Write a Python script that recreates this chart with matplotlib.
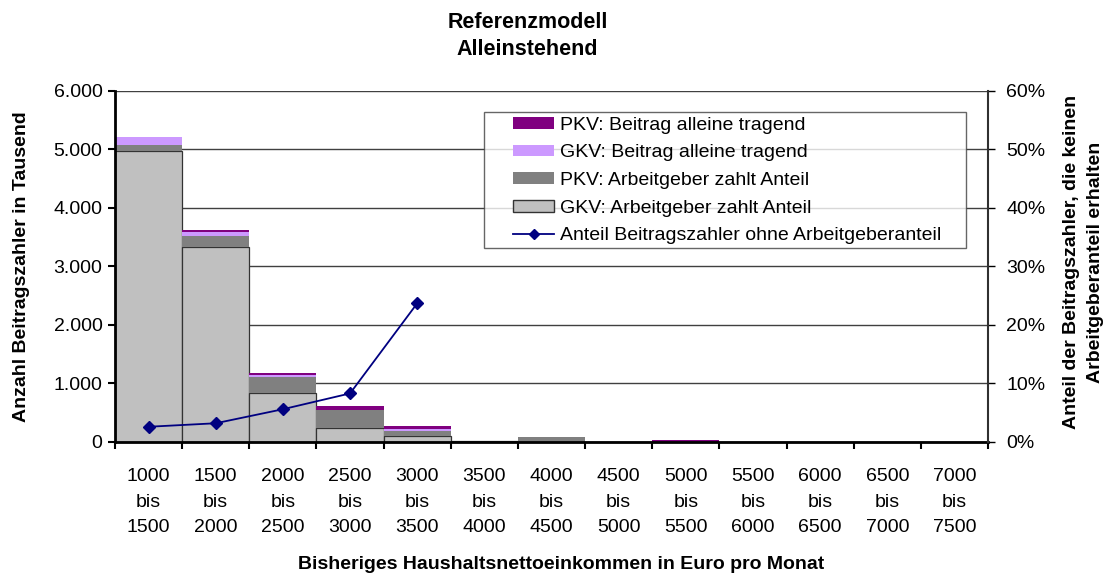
import matplotlib
matplotlib.use("Agg")
import matplotlib.pyplot as plt
import numpy as np
from matplotlib.ticker import FuncFormatter, FixedLocator
from matplotlib.patches import Patch, Rectangle
from matplotlib.lines import Line2D
from matplotlib.legend_handler import HandlerPatch, HandlerLine2D

plt.rcParams['font.family'] = ['Liberation Sans', 'DejaVu Sans']

categories = ["1000\nbis\n1500", "1500\nbis\n2000", "2000\nbis\n2500", "2500\nbis\n3000",
              "3000\nbis\n3500", "3500\nbis\n4000", "4000\nbis\n4500", "4500\nbis\n5000",
              "5000\nbis\n5500", "5500\nbis\n6000", "6000\nbis\n6500", "6500\nbis\n7000",
              "7000\nbis\n7500"]
gkv_ag = [4980, 3340, 832, 234, 108, 25, 0, 0, 0, 0, 0, 0, 0]
pkv_ag = [97, 180, 284, 313, 85, 0, 85, 0, 0, 0, 0, 0, 0]
gkv_alone = [137, 70, 28, 0, 29, 0, 0, 0, 0, 0, 0, 0, 0]
pkv_alone = [0, 35, 40, 68, 51, 0, 0, 0, 30, 0, 0, 0, 0]
anteil = [2.6, 3.2, 5.6, 8.3, 23.7, np.nan, np.nan, np.nan, np.nan, np.nan, np.nan, np.nan, np.nan]

fig = plt.figure(figsize=(11.08, 5.74), dpi=100)
ax = fig.add_axes([0.1038, 0.23, 0.7879, 0.6115])
x = np.arange(len(categories))

ax.set_axisbelow(True)
ax.yaxis.grid(True, color='#404040', linewidth=1.0)
b1 = np.array(gkv_ag)
b2 = b1 + np.array(pkv_ag)
b3 = b2 + np.array(gkv_alone)
ax.bar(x, gkv_ag, width=1.0, color='#C0C0C0', edgecolor='#333333', linewidth=0.9, zorder=2)
ax.bar(x, pkv_ag, width=1.0, bottom=b1, color='#808080', linewidth=0, zorder=2)
ax.bar(x, gkv_alone, width=1.0, bottom=b2, color='#CC99FF', linewidth=0, zorder=2)
ax.bar(x, pkv_alone, width=1.0, bottom=b3, color='#800080', linewidth=0, zorder=2)

ax.set_xlim(-0.5, len(categories) - 0.5)
ax.set_ylim(0, 6000)
ax.set_yticks(np.arange(0, 6001, 1000))
ax.yaxis.set_major_formatter(FuncFormatter(lambda v, p: f"{int(v):,}".replace(",", ".")))
ax.set_xticks(x)
ax.set_xticklabels(categories, fontsize=14, linespacing=1.63)
ax.xaxis.set_minor_locator(FixedLocator(np.arange(-0.5, len(categories), 1.0)))
ax.tick_params(axis='x', which='major', length=0, pad=19)
ax.tick_params(axis='x', which='minor', length=5, width=1.5, direction='out')
ax.tick_params(axis='y', labelsize=14, length=5, width=1.5, direction='out', pad=4)
ax.spines['top'].set_visible(False)
ax.spines['right'].set_visible(False)
ax.spines['left'].set_linewidth(2)
ax.spines['bottom'].set_linewidth(2)
ax.set_ylabel("Anzahl Beitragszahler in Tausend", fontsize=14, fontweight='bold')
ax.yaxis.set_label_coords(-0.097, 0.5)
ax.set_xlabel("Bisheriges Haushaltsnettoeinkommen in Euro pro Monat", fontsize=14,
              fontweight='bold')
ax.xaxis.set_label_coords(0.511, -0.324)

ax2 = ax.twinx()
ax2.set_ylim(0, 60)
ax2.set_yticks(np.arange(0, 61, 10))
ax2.yaxis.set_major_formatter(FuncFormatter(lambda v, p: f"{int(v)}%"))
ax2.tick_params(axis='y', labelsize=14, length=5, width=1.0, direction='out', pad=8)
ax2.plot(x, anteil, color='#000080', linewidth=1.3, marker='D', markersize=6, zorder=5)
for s in ['top', 'left', 'bottom']:
    ax2.spines[s].set_visible(False)
ax2.spines['right'].set_linewidth(1.5)
ax2.spines['right'].set_color('#303030')
ax2.set_ylabel("Anteil der Beitragszahler, die keinen\nArbeitgeberanteil erhalten", fontsize=14,
               fontweight='bold', linespacing=1.55)
ax2.yaxis.set_label_coords(1.086, 0.513)

HW = 29.5  # legend key width in points
HH = 8.4   # legend key height in points


def right_rect(legend, orig_handle, xdescent, ydescent, width, height, fontsize):
    return Rectangle((-xdescent + width - HW, -ydescent + (height - HH) / 2), HW, HH)


class RightLine(HandlerLine2D):
    def get_xdata(self, legend, xdescent, ydescent, width, height, fontsize):
        x0 = -xdescent + width - HW
        return np.array([x0, x0 + HW]), np.array([x0 + HW / 2])


handles = [
    Patch(facecolor='#800080', edgecolor='none', label='PKV: Beitrag alleine tragend'),
    Patch(facecolor='#CC99FF', edgecolor='none', label='GKV: Beitrag alleine tragend'),
    Patch(facecolor='#808080', edgecolor='none', label='PKV: Arbeitgeber zahlt Anteil'),
    Patch(facecolor='#C0C0C0', edgecolor='#333333', label='GKV: Arbeitgeber zahlt Anteil'),
    Line2D([0], [0], color='#000080', linewidth=1.3, marker='D', markersize=5,
           label='Anteil Beitragszahler ohne Arbeitgeberanteil'),
]
hmap = {h: HandlerPatch(patch_func=right_rect) for h in handles[:4]}
hmap[handles[4]] = RightLine()
leg = ax2.legend(handles=handles, handler_map=hmap, loc='upper left', mode='expand',
                 bbox_to_anchor=(0.423, 0.5, 0.552, 0.44), fontsize=14, frameon=True,
                 fancybox=False, edgecolor='#404040', borderpad=0.2, labelspacing=0.52,
                 handlelength=3.4, handletextpad=0.3, borderaxespad=0)
leg.get_frame().set_linewidth(1.0)

fig.text(0.476, 0.979, "Referenzmodell\nAlleinstehend", ha='center', va='top', fontsize=15.5,
         fontweight='bold', linespacing=1.35)

fig.savefig("out.png", dpi=100)
